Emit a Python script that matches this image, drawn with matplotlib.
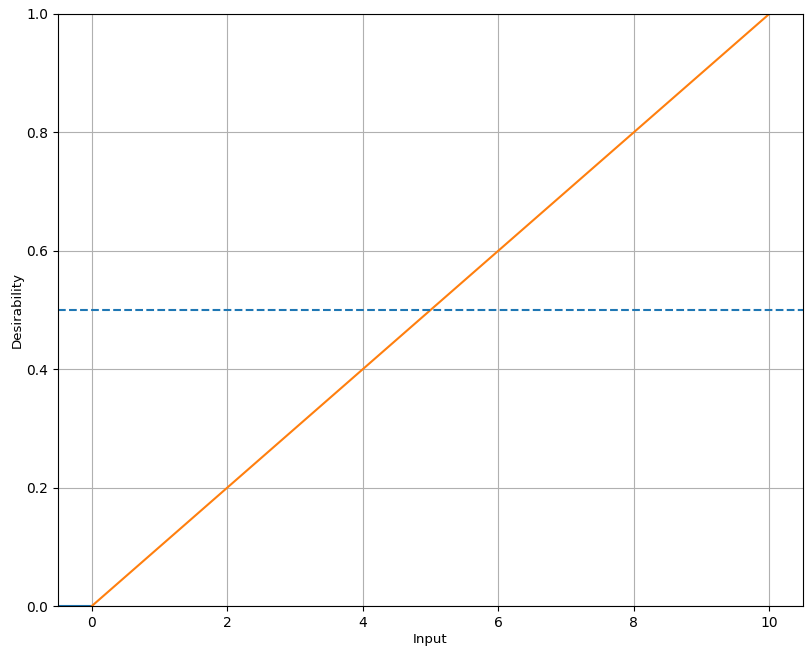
import numpy as np
import matplotlib
matplotlib.use('Agg')
import matplotlib.pyplot as plt

# --- Data ---
low_x = [-0.5, 0.0]
low_y = [0.0, 0.0]
ramp_x = [0.0, 10.0]
ramp_y = [0.0, 1.0]
threshold = 0.5

# --- Plot ---
fig, ax = plt.subplots(figsize=(8.12, 6.56), dpi=100)
fig.subplots_adjust(left=0.0714, right=0.989, top=0.9787, bottom=0.0762)

ax.plot(low_x, low_y, color='C0')
ax.plot(ramp_x, ramp_y, color='C1')
ax.axhline(threshold, color='C0', linestyle='--')

ax.set_xlim(-0.5, 10.5)
ax.set_ylim(0, 1)
ax.set_xlabel("Input", fontsize=9.6, labelpad=2.5)
ax.set_ylabel("Desirability", fontsize=9.6, labelpad=2)
ax.grid(True)

fig.savefig('out.png', dpi=100)
